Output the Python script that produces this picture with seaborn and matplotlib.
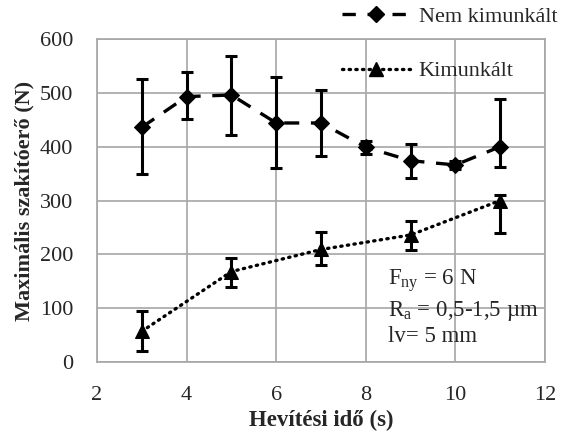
import matplotlib
matplotlib.use("Agg")
import matplotlib.pyplot as plt
import seaborn as sns
import pandas as pd
from matplotlib.lines import Line2D

# data
x_nem = [3, 4, 5, 6, 7, 8, 9, 10, 11]
y_nem = [436, 493, 496, 444, 444, 399, 374, 366, 400]
nem_hi = [526, 539, 569, 529, 506, 411, 405, 374, 489]
nem_lo = [349, 452, 422, 360, 382, 386, 341, 358, 363]

x_kim = [3, 5, 7, 9, 11]
y_kim = [57, 168, 209, 236, 300]
kim_hi = [94, 194, 241, 262, 311]
kim_lo = [20, 139, 180, 208, 239]

xticks = [2, 4, 6, 8, 10, 12]
yticks = [0, 100, 200, 300, 400, 500, 600]

sns.set_theme(style="whitegrid")
plt.rcParams['font.family'] = ['Liberation Serif', 'DejaVu Serif']
plt.rcParams['mathtext.fontset'] = 'custom'
plt.rcParams['mathtext.rm'] = 'Liberation Serif'

fig = plt.figure(figsize=(5.75, 4.38), dpi=100)
ax = fig.add_axes([97/575, 1 - 362/438, (545-97)/575, (362-39)/438])

df_nem = pd.DataFrame({"x": x_nem, "y": y_nem})
df_kim = pd.DataFrame({"x": x_kim, "y": y_kim})

sns.lineplot(data=df_nem, x="x", y="y", ax=ax, color="black", lw=2.4,
             marker="D", markersize=8.5, markeredgecolor="black",
             dashes=False, zorder=3)
ax.lines[-1].set_dashes([4.5, 3.5])
sns.lineplot(data=df_kim, x="x", y="y", ax=ax, color="black", lw=2.4,
             marker="^", markersize=10.5, markeredgecolor="black", zorder=3)
ln = ax.lines[-1]
ln.set_linestyle((0, (0.4, 1.6)))
ln.set_dash_capstyle("round")

for xs, ys, hi, lo in [(x_nem, y_nem, nem_hi, nem_lo), (x_kim, y_kim, kim_hi, kim_lo)]:
    yerr = [[y - l for y, l in zip(ys, lo)], [h - y for y, h in zip(ys, hi)]]
    ax.errorbar(xs, ys, yerr=yerr, fmt="none", ecolor="black", elinewidth=2.2,
                capsize=4.5, capthick=2.2, zorder=4)

ax.set_xlim(2, 12)
ax.set_ylim(0, 600)
ax.set_xticks(xticks)
ax.set_yticks(yticks)
ax.tick_params(axis="both", labelsize=16, length=0)
ax.tick_params(axis="y", pad=17)
ax.tick_params(axis="x", pad=17)
ax.grid(True, color="#a6a6a6", lw=1.2)
for s in ax.spines.values():
    s.set_color("#a6a6a6")
    s.set_linewidth(1.2)
ax.set_facecolor("white")

ax.set_xlabel("Hevítési idő (s)", fontsize=16.5, fontweight="bold", labelpad=4)
ax.set_ylabel("Maximális szakítóerő (N)", fontsize=16, fontweight="bold", labelpad=4)

h1 = Line2D([], [], color="black", lw=2.4, marker="D", markersize=8.5, dashes=[4, 3.5])
h2 = Line2D([], [], color="black", lw=2.4, marker="^", markersize=10.5,
            linestyle=(0, (0.4, 1.6)), dash_capstyle="round")
leg1 = fig.legend([h1], ["Nem kimunkált"], loc="center left",
                  bbox_to_anchor=(342/575, 1 - 17/438), frameon=False, fontsize=16,
                  handlelength=3.1, handletextpad=0.35, borderaxespad=0, borderpad=0)
leg2 = fig.legend([h2], ["Kimunkált"], loc="center left",
                  bbox_to_anchor=(342/575, 1 - 71/438), frameon=False, fontsize=16,
                  handlelength=3.1, handletextpad=0.35, borderaxespad=0, borderpad=0)

ax.text(388/575, 1 - 281/438, r"F$_{\mathregular{ny}}$ = 6 N", transform=fig.transFigure,
        fontsize=16.5, va="center", ha="left")
ax.text(388/575, 1 - 311/438, r"R$_{\mathregular{a}}$ = 0,5-1,5 µm", transform=fig.transFigure,
        fontsize=16.5, va="center", ha="left")
ax.text(388/575, 1 - 337/438, "lv= 5 mm", transform=fig.transFigure,
        fontsize=16.5, va="center", ha="left")

fig.savefig("out.png", dpi=100, facecolor="white")
